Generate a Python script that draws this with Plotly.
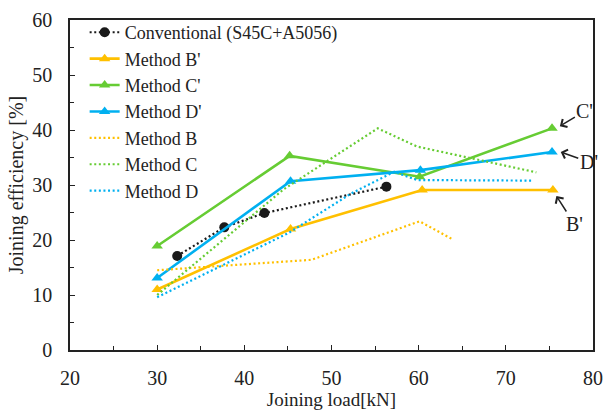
import plotly.graph_objects as go

# Data
conv_x = [32.3, 37.7, 42.3, 56.3]
conv_y = [17.1, 22.3, 24.9, 29.7]

bp_x = [30, 45.3, 60.4, 75.4]
bp_y = [11.0, 22.0, 29.1, 29.1]

cp_x = [30, 45.2, 60.1, 75.3]
cp_y = [18.9, 35.3, 31.5, 40.3]

dp_x = [30, 45.3, 60.2, 75.3]
dp_y = [13.1, 30.7, 32.7, 36.0]

b_x = [30, 37.5, 47.7, 60.1, 63.8]
b_y = [14.5, 15.3, 16.4, 23.4, 20.2]

c_x = [30, 44.5, 55.3, 59.8, 73.5]
c_y = [10.0, 29.2, 40.3, 37.0, 32.3]

d_x = [30, 45.1, 52.3, 57.2, 59.8, 73.0]
d_y = [9.6, 21.3, 28.5, 32.4, 30.9, 30.8]

ORANGE = "#FFC000"
GREEN = "#66CC33"
BLUE = "#00B0F0"
BLACK = "#1a1a1a"
DOT = "2px,2.6px"

fig = go.Figure()
fig.add_trace(go.Scatter(x=conv_x, y=conv_y, mode="lines+markers", name="Conventional (S45C+A5056)",
                         line=dict(color=BLACK, width=2.2, dash=DOT),
                         marker=dict(symbol="circle", size=10, color=BLACK)))
fig.add_trace(go.Scatter(x=bp_x, y=bp_y, mode="lines+markers", name="Method B'",
                         line=dict(color=ORANGE, width=2.6),
                         marker=dict(symbol="triangle-up", size=10, color=ORANGE)))
fig.add_trace(go.Scatter(x=cp_x, y=cp_y, mode="lines+markers", name="Method C'",
                         line=dict(color=GREEN, width=2.6),
                         marker=dict(symbol="triangle-up", size=10, color=GREEN)))
fig.add_trace(go.Scatter(x=dp_x, y=dp_y, mode="lines+markers", name="Method D'",
                         line=dict(color=BLUE, width=2.6),
                         marker=dict(symbol="triangle-up", size=10, color=BLUE)))
fig.add_trace(go.Scatter(x=b_x, y=b_y, mode="lines", name="Method B",
                         line=dict(color=ORANGE, width=2.2, dash=DOT)))
fig.add_trace(go.Scatter(x=c_x, y=c_y, mode="lines", name="Method C",
                         line=dict(color=GREEN, width=2.2, dash=DOT)))
fig.add_trace(go.Scatter(x=d_x, y=d_y, mode="lines", name="Method D",
                         line=dict(color=BLUE, width=2.2, dash=DOT)))

FONT = "Liberation Serif, Times New Roman, serif"

ann = [
    dict(text="C'", x=76.2, y=40.7, ax=25, ay=-15),
    dict(text="D'", x=76.3, y=36.0, ax=28, ay=10),
    dict(text="B'", x=75.8, y=28.0, ax=18, ay=28),
]
for a in ann:
    fig.add_annotation(x=a["x"], y=a["y"], ax=a["ax"], ay=a["ay"], text=a["text"],
                       showarrow=True, arrowhead=4, arrowsize=1.2, arrowwidth=1.5,
                       arrowcolor="#222", xref="x", yref="y",
                       font=dict(family=FONT, size=20, color="#222"))

axis_common = dict(showline=True, linecolor="#222", linewidth=1.5, mirror=True,
                   ticks="inside", ticklen=5, tickcolor="#222", tickwidth=1.2,
                   showgrid=False, zeroline=False,
                   tickfont=dict(family=FONT, size=20, color="#222"))

fig.update_xaxes(range=[20, 80], dtick=10, tick0=20, ticklabelstandoff=9, automargin=False,
                 minor=dict(ticks="inside", dtick=5, ticklen=4, tickcolor="#222"),
                 title=dict(text="Joining load[kN]", font=dict(family=FONT, size=19, color="#222")),
                 **axis_common)
fig.update_yaxes(range=[0, 60], dtick=10, tick0=0, ticklabelstandoff=12, automargin="width",
                 minor=dict(ticks="inside", dtick=5, ticklen=4, tickcolor="#222"),
                 title=dict(text="Joining efficiency [%]", font=dict(family=FONT, size=20, color="#222"), standoff=3),
                 **axis_common)

fig.update_layout(
    width=606, height=410,
    margin=dict(l=70, r=11, t=20, b=60),
    paper_bgcolor="white", plot_bgcolor="white",
    font=dict(family=FONT, size=18, color="#222"),
    legend=dict(x=0.028, y=1.018, xanchor="left", yanchor="top",
                bgcolor="rgba(0,0,0,0)", font=dict(family=FONT, size=18, color="#222"),
                tracegroupgap=0, itemwidth=30),
    showlegend=True,
)

fig.write_html("out.html")
